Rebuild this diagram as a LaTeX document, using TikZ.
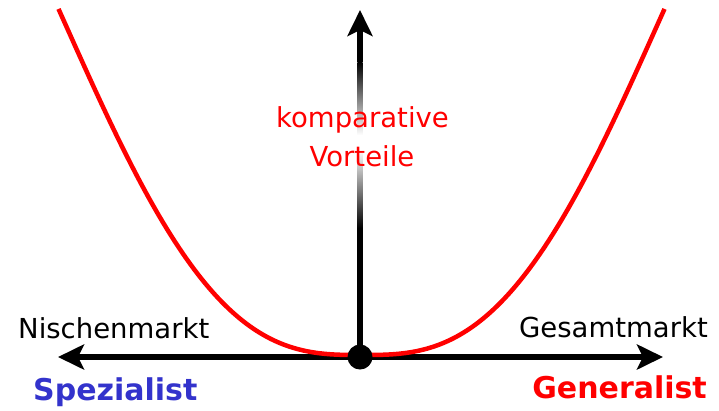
\documentclass[tikz,border=0pt]{standalone}
\usepackage{fontspec}
\setmainfont{DejaVu Sans}
\usetikzlibrary{arrows.meta}
\definecolor{curvered}{RGB}{255,0,0}
\definecolor{specblue}{RGB}{51,51,204}
\tikzset{
  axisline/.style={line width=5.5pt, black},
  lbl/.style={inner sep=0pt, font=\fontsize{27.5}{33}\selectfont},
  biglbl/.style={inner sep=0pt, font=\fontsize{30}{36}\selectfont\bfseries},
  curve/.style={line width=4.5pt, curvered},
}
\begin{document}
\begin{tikzpicture}[x=1pt, y=-1pt]
\useasboundingbox (0,0) rectangle (719,410);
% named points
\coordinate (L) at (58,357);
\coordinate (R) at (663,357);
\coordinate (O) at (360,357);
\coordinate (T) at (360,10);
\coordinate (H) at (360,40);
% vertical shaft with fade
\fill[black] (357.3,36) rectangle (362.7,62);
\shade[top color=black, bottom color=white] (357.3,62) rectangle (362.7,135);
\shade[top color=white, bottom color=black] (357.3,150) rectangle (362.7,228);
\fill[black] (357.3,228) rectangle (362.7,357);
\draw[line width=5.4pt, -{Stealth[length=26pt, width=25pt, inset=6pt]}] (H) -- (T);
% horizontal axis
\draw[axisline, {Stealth[length=26pt, width=25pt, inset=6pt]}-{Stealth[length=26pt, width=25pt, inset=6pt]}] (L) -- (R);
% red curve
\draw[curve] plot[domain=-303:303, samples=151, smooth]
  ({361.5+\x}, {355 - 25.5*(abs(\x)/100)^3 + 4.31*(abs(\x)/100)^4});
% dot
\node[circle, fill=black, minimum size=25pt, inner sep=0pt] (dot) at (O) {};
% labels
\node[lbl, anchor=base west] (nische) at (18,338) {Nischenmarkt};
\node[lbl, anchor=base east] (gesamt) at (708,337) {Gesamtmarkt};
\node[biglbl, anchor=base west, text=specblue] (spez) at (33,400) {Spezialist};
\node[biglbl, anchor=base east, text=curvered] (gen) at (707,398) {Generalist};
\node[lbl, anchor=base, text=curvered] (komp) at (362.5,127) {komparative};
\node[lbl, anchor=base, text=curvered] (vort) at (362,166) {Vorteile};
\end{tikzpicture}
\end{document}
